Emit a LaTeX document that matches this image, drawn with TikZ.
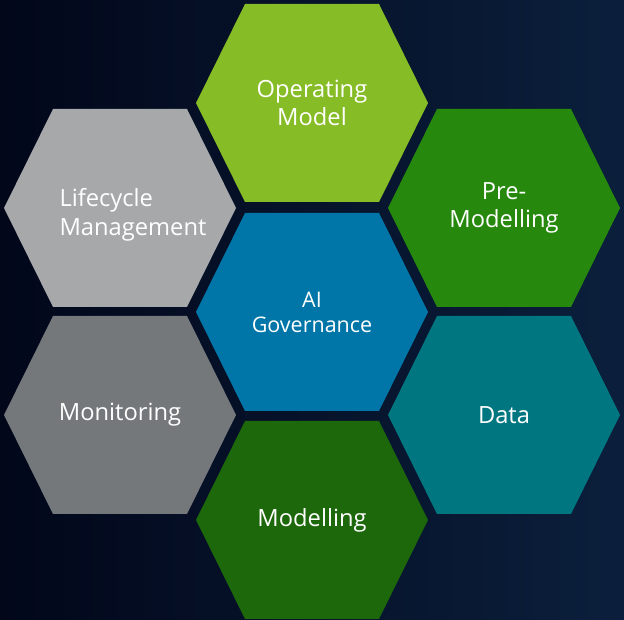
\documentclass[tikz,border=0pt]{standalone}
\usepackage{fontspec}
\setmainfont{Open Sans}
\usetikzlibrary{positioning}

\definecolor{bgleft}{HTML}{02071A}
\definecolor{bgright}{HTML}{0B1F3C}
\definecolor{opmgreen}{HTML}{86BC25}
\definecolor{pregreen}{HTML}{26890D}
\definecolor{modgreen}{HTML}{1E680C}
\definecolor{govblue}{HTML}{0076A8}
\definecolor{datateal}{HTML}{007680}
\definecolor{lifegray}{HTML}{A7A8AA}
\definecolor{mongray}{HTML}{75787B}

\tikzset{
  celltext/.style={text=white, align=center, inner sep=0pt,
    font=\fontsize{23.7}{28.5}\selectfont},
  govtext/.style={celltext, font=\fontsize{21.5}{25}\selectfont},
}

\begin{document}
\begin{tikzpicture}[x=1pt, y=1pt, on grid]
  \useasboundingbox (0,0) rectangle (624,620);
  \fill[left color=bgleft, right color=bgright] (0,0) rectangle (624,620);

  % hexagon centres
  \coordinate (gov) at (312,308);
  \coordinate[above=209pt of gov] (opm);
  \coordinate[above right=104pt and 192pt of gov] (pre);
  \coordinate[below right=103pt and 192pt of gov] (data);
  \coordinate[below=208pt of gov] (mod);
  \coordinate[below left=103pt and 192pt of gov] (mon);
  \coordinate[above left=104pt and 192pt of gov] (life);

  \foreach \c/\col in {gov/govblue, opm/opmgreen, pre/pregreen, data/datateal,
                       mod/modgreen, mon/mongray, life/lifegray}
    \fill[\col, shift={(\c)}] (116,0) -- (67,99) -- (-67,99) -- (-116,0)
      -- (-67,-99) -- (67,-99) -- cycle;

  % labels
  \node[govtext] (govtext) at (gov) {AI\\Governance};
  \node[celltext] (opmtext) at (opm) {Operating\\Model};
  \node[celltext] (pretext) at (pre) {Pre-\\Modelling};
  \node[celltext] (datatext) at (data) {Data};
  \node[celltext] (modtext) at (mod) {Modelling};
  \node[celltext] (montext) at (mon) {Monitoring};
  \node[celltext, align=left, xshift=13pt, yshift=-7pt] (lifetext) at (life) {Lifecycle\\Management};
\end{tikzpicture}
\end{document}
